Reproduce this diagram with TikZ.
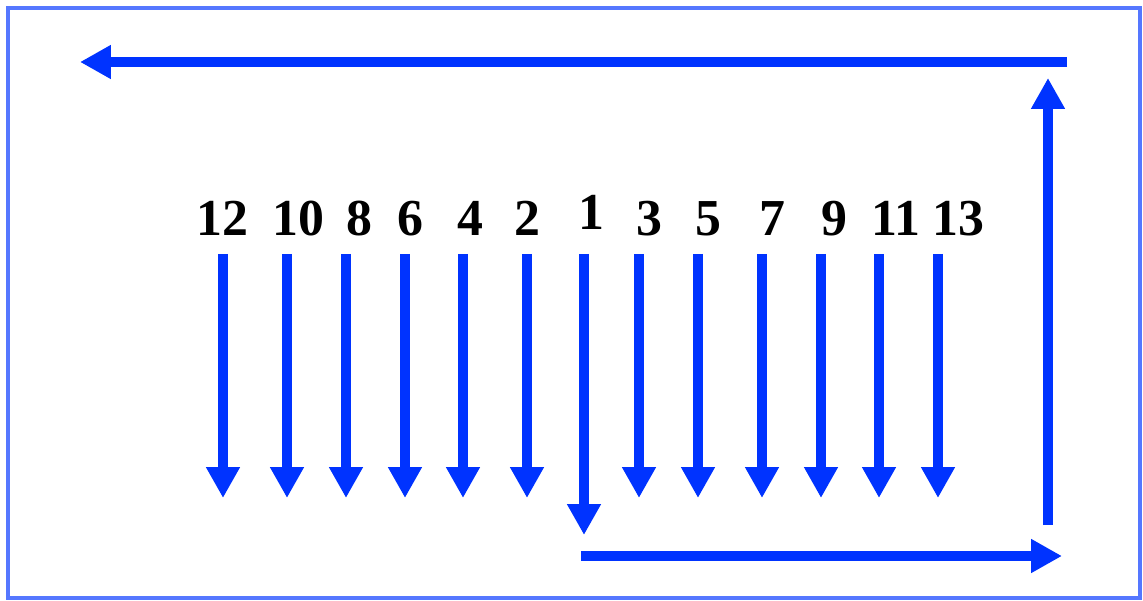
\documentclass[tikz,border=0pt]{standalone}
\usepackage{fontspec}
\setmainfont{Liberation Serif}
\usetikzlibrary{arrows.meta}
\definecolor{arrowblue}{RGB}{0,51,255}
\definecolor{frameblue}{RGB}{85,119,255}
\begin{document}
\begin{tikzpicture}[x=0.02cm, y=-0.02cm,
    flow/.style={draw=arrowblue, line width=0.2cm, -{Triangle[length=0.62cm, width=0.64cm]}},
    num/.style={font=\bfseries\fontsize{29.5}{30}\selectfont, anchor=base, inner sep=0pt}]
    \useasboundingbox (0,0) rectangle (1143,601);
    \draw[frameblue, line width=0.09cm] (8,8) rectangle (1140,598);
    \foreach \n/\lx/\ly/\bx/\tip in {12/222/236/223/498, 10/298/236/287/498, 8/359/236/346/498,
        6/410/236/405/498, 4/470/236/463/498, 2/527/236/527/498, 3/649/236/639/498,
        5/708/236/698/498, 7/772/236/762/498, 9/834/236/821/498, 11/896/236/879/498,
        13/958/236/938/498, 1/591/230/584/535} {
        \node[num] (lab\n) at (\lx,\ly) {\n};
        \coordinate (top\n) at (\bx,254);
        \coordinate (tip\n) at (\bx,\tip);
        \draw[flow] (top\n) -- (tip\n);
    }
    \coordinate (bstart) at (581,556);
    \coordinate (bend) at (1062,556);
    \coordinate (rstart) at (1048,525);
    \coordinate (rend) at (1048,78);
    \coordinate (tstart) at (1067,62);
    \coordinate (tend) at (80,62);
    \draw[flow] (bstart) -- (bend);
    \draw[flow] (rstart) -- (rend);
    \draw[flow] (tstart) -- (tend);
\end{tikzpicture}
\end{document}
